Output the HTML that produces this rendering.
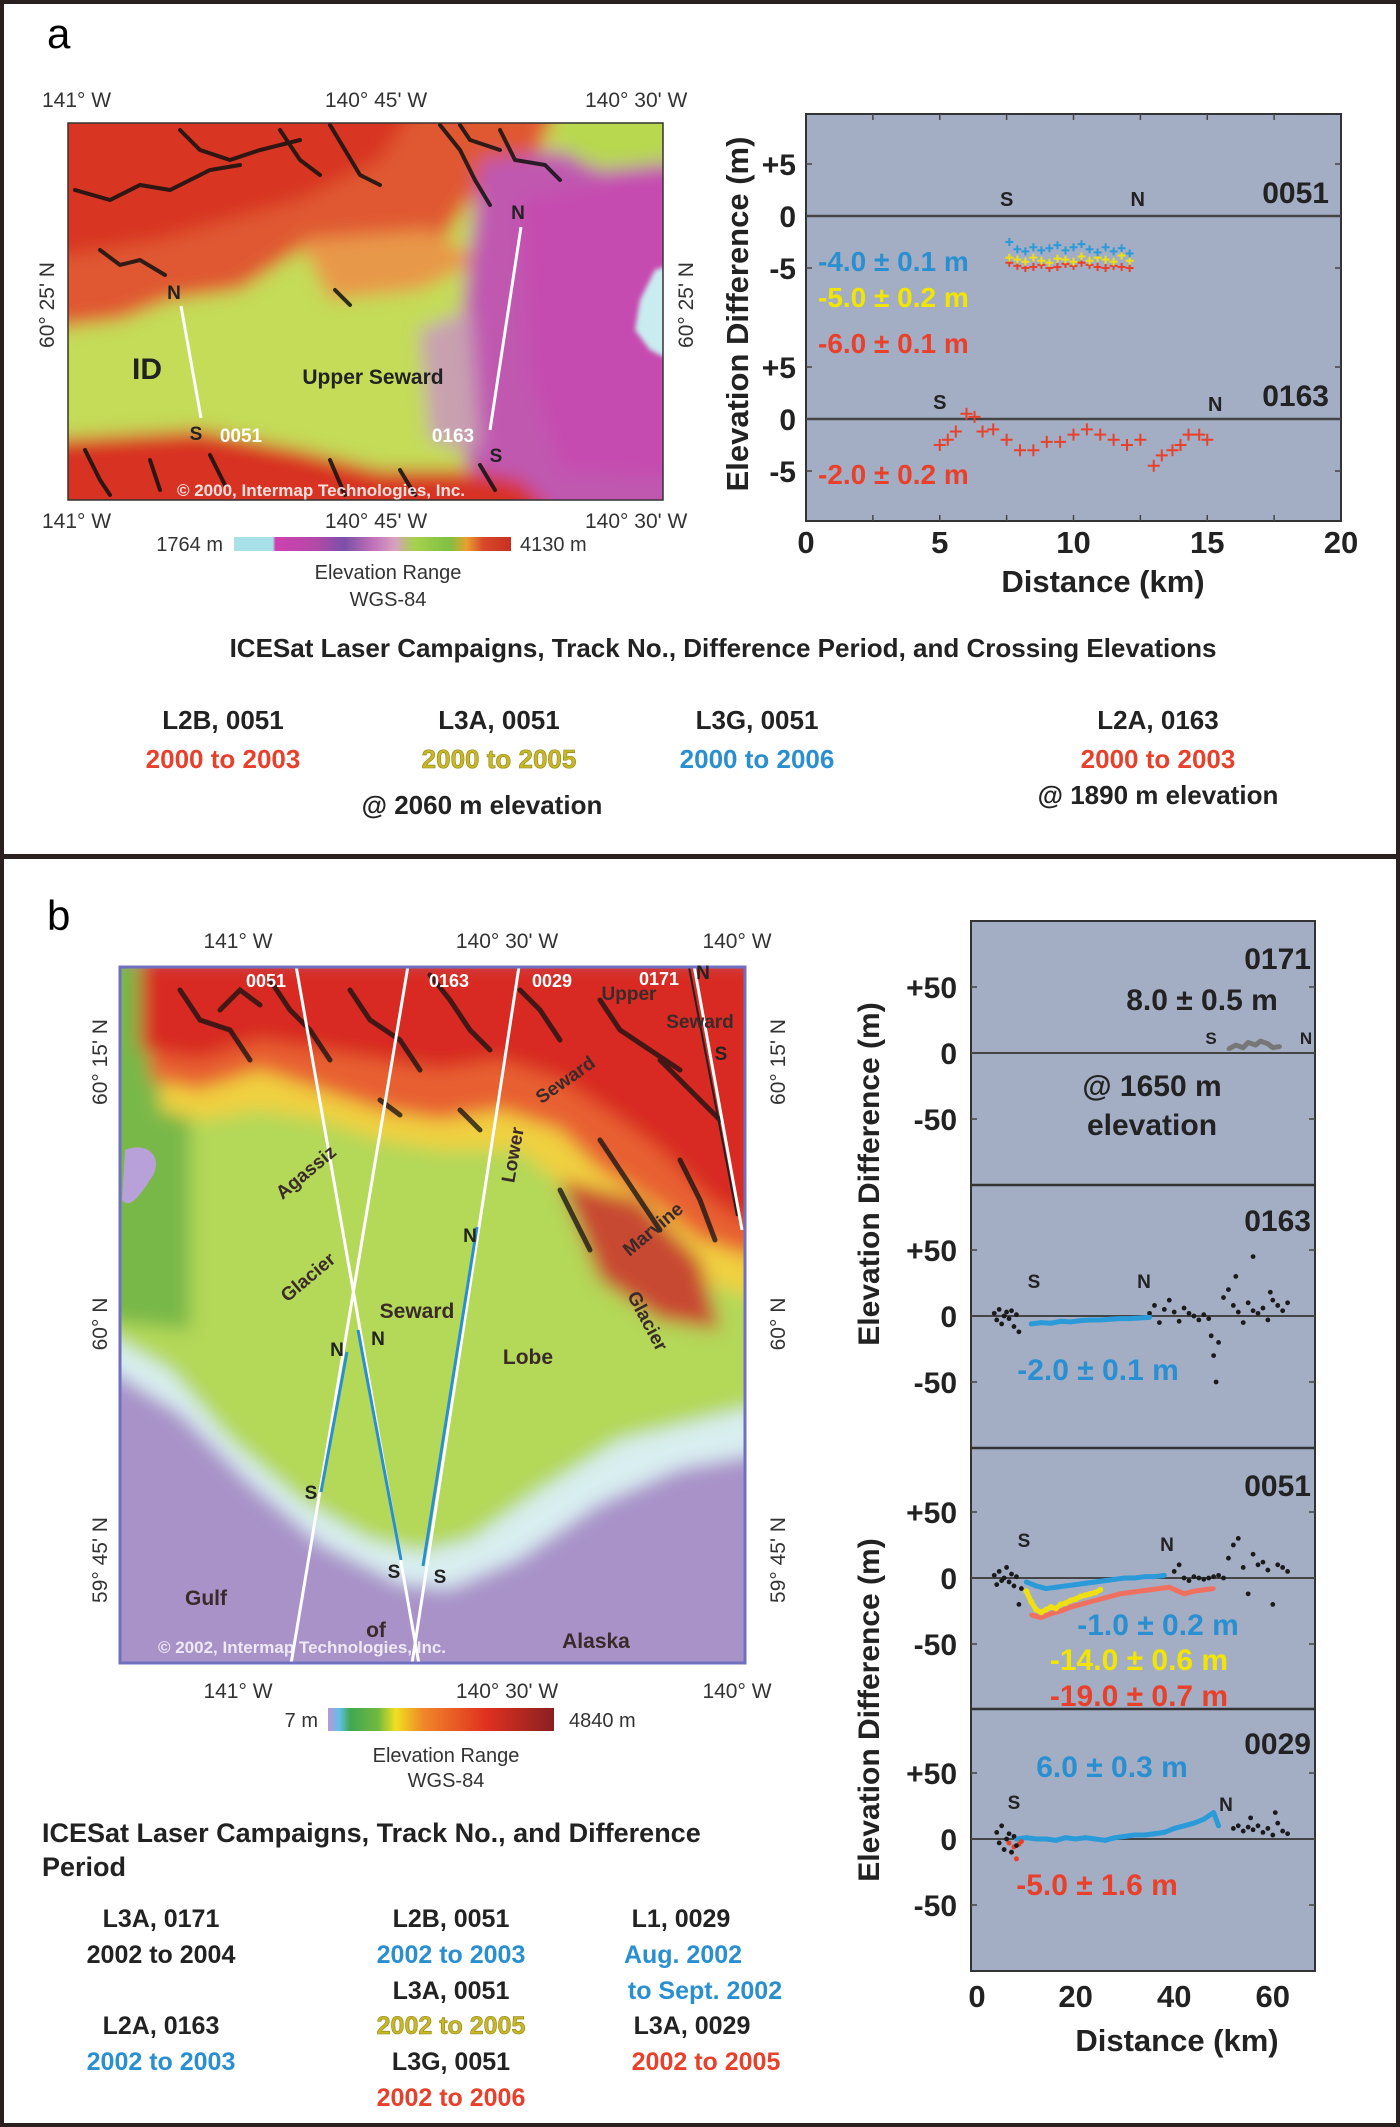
<!DOCTYPE html>
<html><head><meta charset="utf-8"><title>ICESat elevation differences</title>
<style>
html,body{margin:0;padding:0;background:#fff;}
svg{display:block;font-family:"Liberation Sans",Arial,sans-serif;}
.b{font-weight:bold;}
</style></head>
<body>
<svg id="fig" width="1400" height="2127" viewBox="0 0 1400 2127" xmlns="http://www.w3.org/2000/svg">
<defs>
 <filter id="blur8" x="-10%" y="-10%" width="120%" height="120%"><feGaussianBlur stdDeviation="9"/></filter>
 <filter id="blur3"><feGaussianBlur stdDeviation="2.5"/></filter>
 <clipPath id="clipA"><rect x="68" y="123" width="595" height="377"/></clipPath>
 <clipPath id="clipB"><rect x="120" y="967" width="625" height="696"/></clipPath>
 <linearGradient id="cbA" x1="0" x2="1" y1="0" y2="0">
  <stop offset="0" stop-color="#a8e0e8"/><stop offset="0.14" stop-color="#a8e0e8"/>
  <stop offset="0.15" stop-color="#d040b0"/><stop offset="0.3" stop-color="#b04aa8"/>
  <stop offset="0.4" stop-color="#7a50a8"/><stop offset="0.5" stop-color="#c070b8"/>
  <stop offset="0.58" stop-color="#d8a0c0"/><stop offset="0.65" stop-color="#a8d050"/>
  <stop offset="0.78" stop-color="#80c040"/><stop offset="0.84" stop-color="#e8a030"/>
  <stop offset="0.9" stop-color="#d84828"/><stop offset="1" stop-color="#c83020"/>
 </linearGradient>
 <linearGradient id="cbB" x1="0" x2="1" y1="0" y2="0">
  <stop offset="0" stop-color="#b898d8"/><stop offset="0.05" stop-color="#60c0e8"/>
  <stop offset="0.1" stop-color="#40a850"/><stop offset="0.22" stop-color="#70b840"/>
  <stop offset="0.3" stop-color="#f0e020"/><stop offset="0.42" stop-color="#f08828"/>
  <stop offset="0.7" stop-color="#e03020"/><stop offset="1" stop-color="#8a2020"/>
 </linearGradient>
</defs>

<!-- frame -->
<rect x="2" y="2" width="1396" height="2123" fill="none" stroke="#2b2020" stroke-width="4"/>
<rect x="0" y="854" width="1400" height="5" fill="#2b2020"/>

<!-- ============ PANEL A ============ -->
<text x="47" y="48" font-size="42">a</text>

<g>
 <g clip-path="url(#clipA)">
  <g filter="url(#blur8)">
   <rect x="40" y="100" width="660" height="420" fill="#c4dc58"/>
   <path d="M40,100 L560,100 L540,150 L470,200 L430,260 L350,270 L300,250 L240,290 L170,300 L120,320 L40,330 Z" fill="#e05830"/>
   <path d="M40,100 L420,100 L380,160 L300,200 L230,220 L160,240 L100,250 L40,260 Z" fill="#d83424"/>
   <path d="M300,240 L430,230 L480,260 L420,290 L330,300 Z" fill="#e89848"/>
   <path d="M480,160 L560,150 L600,160 L700,150 L700,520 L520,520 L470,470 L440,400 L460,330 L470,250 Z" fill="#c058b0"/>
   <path d="M520,200 L700,160 L700,480 L560,470 L530,380 Z" fill="#c64cb0"/>
   <path d="M420,330 L470,310 L480,450 L430,440 Z" fill="#c8a0b0"/>
   <path d="M560,100 L700,100 L700,160 L600,170 L560,150 Z" fill="#b8d850"/>
   <path d="M40,440 L200,430 L300,450 L380,470 L460,470 L520,480 L560,520 L40,520 Z" fill="#d83020"/>
  </g>
  <path d="M640,300 L655,270 L670,265 L670,360 L650,350 L635,330 Z" fill="#c8ecf0" filter="url(#blur3)"/>
  <g stroke="#111" stroke-width="4" fill="none" stroke-linecap="round" opacity="0.85">
   <path d="M75,190 L110,200 L140,185 L170,190 L210,170 L240,165"/>
   <path d="M180,130 L200,150 L230,160 L260,150 L300,140"/>
   <path d="M280,130 L300,160 L320,175"/>
   <path d="M330,125 L345,150 L360,175 L380,185"/>
   <path d="M440,125 L460,150 L475,180 L490,205"/>
   <path d="M500,130 L515,160 L545,165 L560,180"/>
   <path d="M460,125 L470,140 L500,150"/>
   <path d="M100,250 L120,265 L140,260 L165,275"/>
   <path d="M335,290 L350,305"/>
   <path d="M85,450 L100,480 L110,495"/>
   <path d="M150,460 L160,490"/>
   <path d="M210,455 L225,485"/>
   <path d="M330,460 L345,495"/>
   <path d="M400,470 L415,495"/>
   <path d="M480,465 L495,490"/>
  </g>
 </g>
 <rect x="68" y="123" width="595" height="377" fill="none" stroke="#333" stroke-width="1.5"/>
 <line x1="181" y1="306" x2="201" y2="418" stroke="#fff" stroke-width="3"/>
 <line x1="521" y1="227" x2="490" y2="430" stroke="#fff" stroke-width="3"/>
 <g class="b" font-size="19" fill="#222">
  <text x="174" y="299" text-anchor="middle">N</text>
  <text x="196" y="440" text-anchor="middle">S</text>
  <text x="518" y="219" text-anchor="middle">N</text>
  <text x="496" y="462" text-anchor="middle">S</text>
 </g>
 <text x="241" y="442" class="b" font-size="19" fill="#fff" text-anchor="middle">0051</text>
 <text x="453" y="442" class="b" font-size="19" fill="#fff" text-anchor="middle">0163</text>
 <text x="147" y="379" class="b" font-size="30" fill="#222" text-anchor="middle">ID</text>
 <text x="373" y="384" class="b" font-size="21" fill="#222" text-anchor="middle">Upper Seward</text>
 <text x="321" y="496" class="b" font-size="17" fill="#fff" fill-opacity="0.85" text-anchor="middle">© 2000, Intermap Technologies, Inc.</text>
</g>
<g font-size="21" fill="#333">
 <text x="42" y="107">141° W</text>
 <text x="376" y="107" text-anchor="middle">140° 45' W</text>
 <text x="585" y="107">140° 30' W</text>
 <text x="42" y="528">141° W</text>
 <text x="376" y="528" text-anchor="middle">140° 45' W</text>
 <text x="585" y="528">140° 30' W</text>
 <text transform="translate(54,305) rotate(-90)" text-anchor="middle">60° 25' N</text>
 <text transform="translate(693,305) rotate(-90)" text-anchor="middle">60° 25' N</text>
</g>
<g>
 <rect x="234" y="537" width="277" height="14" fill="url(#cbA)"/>
 <text x="223" y="551" font-size="20" fill="#333" text-anchor="end">1764 m</text>
 <text x="520" y="551" font-size="20" fill="#333">4130 m</text>
 <text x="388" y="579" font-size="20" fill="#333" text-anchor="middle">Elevation Range</text>
 <text x="388" y="606" font-size="20" fill="#333" text-anchor="middle">WGS-84</text>
</g>

<!-- plot a -->
<g id="plotA">
 <rect x="806" y="114" width="535" height="407" fill="#a3aec5" stroke="#333" stroke-width="2"/>
</g>
<text transform="translate(748,314) rotate(-90)" class="b" font-size="31" fill="#222" text-anchor="middle">Elevation Difference (m)</text>
<text x="1103" y="592" class="b" font-size="31" fill="#222" text-anchor="middle">Distance (km)</text>

<g font-size="26" class="b" fill="#222" text-anchor="middle">
 <text x="723" y="657">ICESat Laser Campaigns, Track No., Difference Period, and Crossing Elevations</text>
 <text x="223" y="729">L2B, 0051</text>
 <text x="223" y="768" fill="#e8402a">2000 to 2003</text>
 <text x="499" y="729">L3A, 0051</text>
 <text x="499" y="768" fill="#c8b828" stroke="#8a8010" stroke-width="0.6">2000 to 2005</text>
 <text x="757" y="729">L3G, 0051</text>
 <text x="757" y="768" fill="#2a8fd0">2000 to 2006</text>
 <text x="482" y="814">@ 2060 m elevation</text>
 <text x="1158" y="729">L2A, 0163</text>
 <text x="1158" y="768" fill="#e8402a">2000 to 2003</text>
 <text x="1158" y="804">@ 1890 m elevation</text>
</g>

<!-- ============ PANEL B ============ -->
<text x="47" y="930" font-size="42">b</text>

<g>
 <g clip-path="url(#clipB)">
  <rect x="110" y="960" width="650" height="720" fill="#a892c8"/>
  <g filter="url(#blur8)">
   <path d="M100,960 L760,960 L760,1455 L680,1470 L600,1505 L520,1560 L450,1590 L400,1585 L320,1545 L250,1485 L180,1415 L100,1365 Z" fill="#d8eef0"/>
   <path d="M100,960 L760,960 L760,1405 L700,1420 L620,1440 L540,1490 L470,1540 L420,1552 L370,1540 L300,1500 L230,1440 L170,1370 L100,1330 Z" fill="#b4d858"/>
   <path d="M100,960 L190,960 L190,1330 L100,1320 Z" fill="#78b848"/>
   <path d="M160,960 L760,960 L760,1300 L700,1280 L640,1240 L580,1200 L520,1150 L440,1150 L380,1140 L320,1120 L260,1110 L200,1120 L160,1110 Z" fill="#f0d040"/>
   <path d="M150,960 L760,960 L760,1260 L700,1240 L650,1200 L600,1170 L560,1130 L500,1110 L440,1120 L380,1110 L320,1090 L260,1070 L200,1090 L150,1080 Z" fill="#e86030"/>
   <path d="M140,960 L760,960 L760,1230 L710,1200 L660,1150 L620,1120 L560,1080 L500,1060 L440,1070 L380,1060 L320,1050 L260,1040 L200,1060 L140,1050 Z" fill="#d82a20"/>
   <path d="M560,1180 L640,1200 L700,1260 L720,1330 L660,1320 L600,1280 Z" fill="#c84830"/>
  </g>
  <path d="M125,1150 C150,1140 165,1160 150,1180 C140,1195 130,1210 122,1200 Z" fill="#b8a0d8"/>
  <g stroke="#111" stroke-width="5" fill="none" stroke-linecap="round" opacity="0.75">
   <path d="M180,990 L200,1020 L230,1030 L250,1060"/>
   <path d="M270,980 L290,1010 L310,1030 L330,1060"/>
   <path d="M350,990 L370,1020 L400,1040 L420,1070"/>
   <path d="M430,975 L450,1000 L470,1030 L490,1050"/>
   <path d="M520,990 L540,1010 L560,1040"/>
   <path d="M600,1000 L620,1030 L650,1050 L680,1070"/>
   <path d="M660,1060 L690,1090 L720,1120"/>
   <path d="M600,1140 L620,1170 L640,1200 L660,1230"/>
   <path d="M560,1190 L575,1220 L590,1250"/>
   <path d="M680,1160 L700,1200 L715,1240"/>
   <path d="M220,1010 L240,990 L260,1005"/>
   <path d="M460,1110 L480,1130"/>
   <path d="M380,1100 L400,1115"/>
  </g>
  <!-- tracks -->
  <line x1="295" y1="960" x2="420" y2="1670" stroke="#fff" stroke-width="3"/>
  <line x1="409" y1="960" x2="290" y2="1670" stroke="#fff" stroke-width="3"/>
  <line x1="520" y1="960" x2="411" y2="1670" stroke="#fff" stroke-width="3"/>
  <line x1="693" y1="960" x2="742" y2="1230" stroke="#fff" stroke-width="3"/>
  <line x1="688" y1="962" x2="737" y2="1216" stroke="#222" stroke-width="2"/>
  <line x1="358" y1="1330" x2="401" y2="1560" stroke="#2a8fd0" stroke-width="3"/>
  <line x1="347" y1="1352" x2="321" y2="1492" stroke="#2a8fd0" stroke-width="3"/>
  <line x1="477" y1="1227" x2="423" y2="1566" stroke="#2a8fd0" stroke-width="3"/>
 </g>
 <rect x="120" y="967" width="625" height="696" fill="none" stroke="#7070c0" stroke-width="3"/>
 <g class="b" font-size="18" fill="#fff">
  <text x="266" y="987" text-anchor="middle">0051</text>
  <text x="449" y="987" text-anchor="middle">0163</text>
  <text x="552" y="987" text-anchor="middle">0029</text>
  <text x="659" y="985" text-anchor="middle">0171</text>
 </g>
 <g class="b" font-size="19" fill="#222" text-anchor="middle">
  <text x="378" y="1345">N</text><text x="394" y="1578">S</text>
  <text x="337" y="1356">N</text><text x="311" y="1499">S</text>
  <text x="470" y="1242">N</text><text x="440" y="1583">S</text>
  <text x="703" y="979">N</text><text x="721" y="1060">S</text>
 </g>
 <g class="b" font-size="19" fill="#3a2a2a" text-anchor="middle">
  <text x="629" y="1000">Upper</text>
  <text x="700" y="1028">Seward</text>
  <text transform="translate(569,1085) rotate(-35)">Seward</text>
  <text transform="translate(519,1156) rotate(-80)">Lower</text>
  <text transform="translate(310,1177) rotate(-40)">Agassiz</text>
  <text transform="translate(312,1282) rotate(-40)">Glacier</text>
  <text x="417" y="1318" font-size="21">Seward</text>
  <text x="528" y="1364" font-size="21">Lobe</text>
  <text transform="translate(657,1234) rotate(-40)">Marvine</text>
  <text transform="translate(642,1324) rotate(62)">Glacier</text>
  <text x="206" y="1605" font-size="21">Gulf</text>
  <text x="376" y="1637" font-size="21">of</text>
  <text x="596" y="1648" font-size="21">Alaska</text>
 </g>
 <text x="302" y="1653" class="b" font-size="17" fill="#fff" fill-opacity="0.8" text-anchor="middle">© 2002, Intermap Technologies, Inc.</text>
</g>
<g font-size="21" fill="#333" text-anchor="middle">
 <text x="238" y="948">141° W</text>
 <text x="507" y="948">140° 30' W</text>
 <text x="737" y="948">140° W</text>
 <text x="238" y="1698">141° W</text>
 <text x="507" y="1698">140° 30' W</text>
 <text x="737" y="1698">140° W</text>
 <text transform="translate(107,1062) rotate(-90)">60° 15' N</text>
 <text transform="translate(107,1324) rotate(-90)">60° N</text>
 <text transform="translate(107,1560) rotate(-90)">59° 45' N</text>
 <text transform="translate(785,1062) rotate(-90)">60° 15' N</text>
 <text transform="translate(785,1324) rotate(-90)">60° N</text>
 <text transform="translate(785,1560) rotate(-90)">59° 45' N</text>
</g>
<g>
 <rect x="328" y="1708" width="226" height="23" fill="url(#cbB)"/>
 <text x="318" y="1727" font-size="20" fill="#333" text-anchor="end">7 m</text>
 <text x="569" y="1727" font-size="20" fill="#333">4840 m</text>
 <text x="446" y="1762" font-size="20" fill="#333" text-anchor="middle">Elevation Range</text>
 <text x="446" y="1787" font-size="20" fill="#333" text-anchor="middle">WGS-84</text>
</g>

<g class="b" font-size="27" fill="#222">
 <text x="42" y="1842">ICESat Laser Campaigns, Track No., and Difference</text>
 <text x="42" y="1876">Period</text>
 <g font-size="25" text-anchor="middle">
  <text x="161" y="1927">L3A, 0171</text>
  <text x="161" y="1963">2002 to 2004</text>
  <text x="161" y="2034">L2A, 0163</text>
  <text x="161" y="2070" fill="#2a8fd0">2002 to 2003</text>
  <text x="451" y="1927">L2B, 0051</text>
  <text x="451" y="1963" fill="#2a8fd0">2002 to 2003</text>
  <text x="451" y="1999">L3A, 0051</text>
  <text x="451" y="2034" fill="#c8b828" stroke="#8a8010" stroke-width="0.6">2002 to 2005</text>
  <text x="451" y="2070">L3G, 0051</text>
  <text x="451" y="2106" fill="#e8402a">2002 to 2006</text>
  <text x="681" y="1927">L1, 0029</text>
  <text x="683" y="1963" fill="#2a8fd0">Aug. 2002</text>
  <text x="705" y="1999" fill="#2a8fd0">to Sept. 2002</text>
  <text x="692" y="2034">L3A, 0029</text>
  <text x="706" y="2070" fill="#e8402a">2002 to 2005</text>
 </g>
</g>

<g id="plotB">
 <rect x="971" y="921" width="344" height="1050" fill="#a3aec5" stroke="#333" stroke-width="2"/>
</g>
<text transform="translate(879,1174) rotate(-90)" class="b" font-size="30" fill="#222" text-anchor="middle">Elevation Difference (m)</text>
<text transform="translate(879,1710) rotate(-90)" class="b" font-size="30" fill="#222" text-anchor="middle">Elevation Difference (m)</text>
<text x="1177" y="2051" class="b" font-size="31" fill="#222" text-anchor="middle">Distance (km)</text>

<script>
// ---------- Panel a data ----------
const aXTicks = [0, 5, 10, 15, 20];
const aYTicks = [5, 0, -5];
const aYTickLabels = ["+5", "0", "-5"];
const aTracks = ["0051", "0163"];
const aDist51 = [7.6,7.9,8.2,8.5,8.8,9.1,9.4,9.7,10,10.3,10.6,10.9,11.2,11.5,11.8,12.1];
const aBlue51 = [-2.5,-3.2,-3.4,-3.0,-3.3,-3.1,-2.8,-3.3,-3.0,-2.7,-3.2,-3.5,-3.0,-3.4,-3.1,-3.6];
const aYel51  = [-4.0,-4.2,-4.4,-4.0,-4.3,-4.5,-4.1,-4.2,-4.4,-3.9,-4.3,-4.0,-4.2,-4.4,-3.8,-4.3];
const aRed51  = [-4.5,-4.8,-5.0,-4.9,-4.7,-5.0,-4.9,-4.6,-4.8,-4.5,-4.7,-4.9,-5.0,-4.8,-4.9,-5.0];
const aDist163 = [5.0,5.3,5.6,6.0,6.3,6.6,7.0,7.5,8.0,8.5,9.0,9.5,10.0,10.5,11.0,11.5,12.0,12.5,13.0,13.3,13.7,14.0,14.3,14.7,15.0];
const aRed163  = [-2.5,-2.0,-1.2,0.5,0.2,-1.2,-1.0,-2.0,-3.0,-3.0,-2.2,-2.2,-1.5,-1.0,-1.5,-2.0,-2.5,-2.0,-4.5,-3.5,-3.0,-2.5,-1.5,-1.5,-2.0];

// ---------- Panel b data ----------
const bXTicks = [0, 20, 40, 60];
const bYTicks = [50, 0, -50];
const bYTickLabels = ["+50", "0", "-50"];
const bTracks = ["0171", "0163", "0051", "0029"];
const b171Dist = [51,52.5,54,55,56.5,57.5,59,60,61.5];
const b171Val  = [3,6,4,8,6,9,7,4,5];
const b163BlackDist = [3.5,4,4.5,5,5.5,6,6.5,7,7.5,8,8.5,35,36,37,38,39,40,41,42,43,44,45,46,47,47.5,48,48.5,50,51,52,53,54,55,56,57,58,59,60,61,62,63,56,59.5,52.5,49];
const b163BlackVal  = [2,-3,5,-6,0,3,-2,4,-8,1,-12,2,8,-5,5,12,3,-4,6,2,0,-3,1,-2,-15,-30,-50,14,20,8,3,-5,10,4,2,6,-3,12,8,4,10,45,18,30,-20];
const b163BlueDist = [11,13,15,17,19,21,23,25,27,29,31,33,35];
const b163BlueVal  = [-6,-5,-5.5,-4,-4.5,-3.5,-3,-3,-2.5,-2,-2,-1.5,-1];
const b51BlackDist = [3.5,4,4.5,5,5.5,6,6.5,7,7.5,8,8.5,9,40,41,42,43,44,45,46,47,48,49,50,51,52,53,54,55,56,57,58,59,60,61,62,63];
const b51BlackVal  = [2,-5,5,-2,0,8,-3,3,-6,1,-20,-8,5,10,0,-2,1,0,-1,0,1,2,0,15,25,30,8,-12,18,10,12,6,-20,10,8,5];
const b51BlueDist = [10,12,14,16,18,20,22,24,26,28,30,32,34,36,38];
const b51BlueVal  = [-3,-6,-8,-7,-6,-5,-4,-3,-2,-1,0,0,1,1,2];
const b51YelDist = [10,11,12,13,14,15,16,17,18,19,20,21,22,23,24,25];
const b51YelVal  = [-10,-18,-24,-26,-24,-22,-23,-20,-19,-17,-16,-14,-13,-12,-11,-9];
const b51RedDist = [11,13,15,17,19,21,23,25,27,29,31,33,35,37,39,42,44,46,48];
const b51RedVal  = [-28,-30,-27,-25,-22,-20,-18,-16,-14,-12,-11,-10,-9,-8,-7,-12,-10,-9,-8];
const b29BlackDist = [4,4.5,5,5.5,6,6.5,7,7.5,8,52,53,54,55,56,57,58,59,60,61,62,63,55.5,60.5];
const b29BlackVal  = [5,-3,10,-8,0,4,-10,2,-5,8,10,6,9,7,10,5,8,3,12,6,4,16,20];
const b29BlueDist = [8,10,12,14,16,18,20,22,24,26,28,30,32,34,36,38,40,42,44,46,48,49];
const b29BlueVal  = [0,1,0,0,-1,1,0,1,0,-1,1,2,3,3,4,5,8,10,12,15,20,10];
const b29RedDist = [6.5,7,7.5,8,8.5,9];
const b29RedVal  = [-3,-10,-6,-15,-4,-2];

const NS = "http://www.w3.org/2000/svg";
function mk(tag, attrs, parent) {
  const e = document.createElementNS(NS, tag);
  for (const k in attrs) e.setAttribute(k, attrs[k]);
  parent.appendChild(e);
  return e;
}
// axis functions
const aX = d => 806 + d * 26.75;
const aZero = [216, 419];
const aY = (p, v) => aZero[p] - v * 10.4;
const bX = d => 977 + d * 4.93;
const bZero = [1053, 1316, 1578, 1839];
const bY = (p, v) => bZero[p] - v * 1.32;

const gA = document.getElementById("plotA");
const gB = document.getElementById("plotB");

// ----- plot a axes -----
aTracks.forEach((t, p) => {
  const z = mk("line", {x1: 806, x2: 1341, y1: aY(p, 0), y2: aY(p, 0), stroke: "#444", "stroke-width": 2.5}, gA);
  
  
  aYTicks.forEach((v, i) => {
    const tx = mk("text", {x: 796, y: aY(p, v) + 11, "font-size": 30, "font-weight": "bold", fill: "#222", "text-anchor": "end"}, gA);
    tx.textContent = aYTickLabels[i];
    
    
    mk("line", {x1: 806, x2: 812, y1: aY(p, v), y2: aY(p, v), stroke: "#444", "stroke-width": 1.5}, gA);
    mk("line", {x1: 1335, x2: 1341, y1: aY(p, v), y2: aY(p, v), stroke: "#444", "stroke-width": 1.5}, gA);
  });
  const lab = mk("text", {x: 1329, y: aY(p, 0) - 13, "font-size": 30, "font-weight": "bold", fill: "#222", "text-anchor": "end"}, gA);
  lab.textContent = t;
  
  
});
aXTicks.forEach(d => {
  const tx = mk("text", {x: aX(d), y: 553, "font-size": 31, "font-weight": "bold", fill: "#222", "text-anchor": "middle"}, gA);
  tx.textContent = d;
  
  
});
for (let d = 2.5; d < 20; d += 2.5) {
  mk("line", {x1: aX(d), x2: aX(d), y1: 114, y2: 120, stroke: "#444", "stroke-width": 1.5}, gA);
  mk("line", {x1: aX(d), x2: aX(d), y1: 515, y2: 521, stroke: "#444", "stroke-width": 1.5}, gA);
}
function crossA(p, dist, vals, color, name, sz) {
  const g = mk("g", {stroke: color, "stroke-width": 2}, gA);
  
  
  dist.forEach((d, i) => {
    const x = aX(d), y = aY(p, vals[i]);
    mk("path", {d: `M${x - sz},${y}H${x + sz}M${x},${y - sz}V${y + sz}`}, g);
  });
}
crossA(0, aDist51, aRed51, "#e8402a", "series-0051-l2b", 4);
crossA(0, aDist51, aYel51, "#f0e010", "series-0051-l3a", 4);
crossA(0, aDist51, aBlue51, "#2a9ad8", "series-0051-l3g", 4);
crossA(1, aDist163, aRed163, "#e8402a", "series-0163-l2a", 6);
function txt(parent, x, y, s, fs, color, anchor, name) {
  const t = mk("text", {x: x, y: y, "font-size": fs, "font-weight": "bold", fill: color, "text-anchor": anchor || "start"}, parent);
  t.textContent = s;
  
  
  return t;
}
txt(gA, aX(7.5), 206, "S", 20, "#222", "middle", "south-marker");
txt(gA, aX(12.4), 206, "N", 20, "#222", "middle", "north-marker");
txt(gA, aX(5), 409, "S", 20, "#222", "middle", "south-marker");
txt(gA, aX(15.3), 411, "N", 20, "#222", "middle", "north-marker");
txt(gA, 818, 271, "-4.0 ± 0.1 m", 28, "#2a8fd0", "start", "value-0051-l3g");
txt(gA, 818, 307, "-5.0 ± 0.2 m", 28, "#f2e600", "start", "value-0051-l3a");
txt(gA, 818, 353, "-6.0 ± 0.1 m", 28, "#e8402a", "start", "value-0051-l2b");
txt(gA, 818, 484, "-2.0 ± 0.2 m", 28, "#e8402a", "start", "value-0163-l2a");

// ----- plot b axes -----
[1185, 1448, 1709].forEach(y => mk("line", {x1: 971, x2: 1315, y1: y, y2: y, stroke: "#333", "stroke-width": 2.5}, gB));
bTracks.forEach((t, p) => {
  const z = mk("line", {x1: 971, x2: 1315, y1: bY(p, 0), y2: bY(p, 0), stroke: "#444", "stroke-width": 2}, gB);
  
  
  bYTicks.forEach((v, i) => {
    const tx = mk("text", {x: 957, y: bY(p, v) + 11, "font-size": 30, "font-weight": "bold", fill: "#222", "text-anchor": "end"}, gB);
    tx.textContent = bYTickLabels[i];
    
    
    mk("line", {x1: 971, x2: 977, y1: bY(p, v), y2: bY(p, v), stroke: "#444", "stroke-width": 1.5}, gB);
    mk("line", {x1: 1309, x2: 1315, y1: bY(p, v), y2: bY(p, v), stroke: "#444", "stroke-width": 1.5}, gB);
  });
});
bXTicks.forEach(d => {
  const tx = mk("text", {x: bX(d), y: 2007, "font-size": 31, "font-weight": "bold", fill: "#222", "text-anchor": "middle"}, gB);
  tx.textContent = d;
  
  
});
function dotsB(p, dist, vals, color, r, name, line) {
  const g = mk("g", {fill: color}, gB);
  
  
  if (line) {
    mk("polyline", {points: dist.map((d, i) => bX(d) + "," + bY(p, vals[i])).join(" "), fill: "none", stroke: color, "stroke-width": 5, "stroke-linejoin": "round"}, g);
  }
  dist.forEach((d, i) => mk("circle", {cx: bX(d), cy: bY(p, vals[i]), r: r}, g));
}
dotsB(0, b171Dist, b171Val, "#777", 1.8, "series-0171", true);
dotsB(1, b163BlackDist, b163BlackVal, "#1a1a1a", 2.4, "series-0163-outside", false);
dotsB(1, b163BlueDist, b163BlueVal, "#2a9ad8", 2.5, "series-0163-l2a", true);
dotsB(2, b51RedDist, b51RedVal, "#f07060", 2, "series-0051-l3g", true);
dotsB(2, b51YelDist, b51YelVal, "#f0e010", 3, "series-0051-l3a", true);
dotsB(2, b51BlueDist, b51BlueVal, "#2a9ad8", 2.5, "series-0051-l2b", true);
dotsB(2, b51BlackDist, b51BlackVal, "#1a1a1a", 2.4, "series-0051-outside", false);
dotsB(3, b29BlueDist, b29BlueVal, "#2a9ad8", 2.5, "series-0029-l1", true);
dotsB(3, b29RedDist, b29RedVal, "#e8402a", 2.5, "series-0029-l3a", false);
dotsB(3, b29BlackDist, b29BlackVal, "#1a1a1a", 2.4, "series-0029-outside", false);

txt(gB, 1311, 969, "0171", 30, "#222", "end", "track-label-0171");
txt(gB, 1311, 1231, "0163", 30, "#222", "end", "track-label-0163");
txt(gB, 1311, 1496, "0051", 30, "#222", "end", "track-label-0051");
txt(gB, 1311, 1754, "0029", 30, "#222", "end", "track-label-0029");
txt(gB, 1202, 1010, "8.0 ± 0.5 m", 30, "#222", "middle", "value-0171");
txt(gB, 1152, 1096, "@ 1650 m", 30, "#222", "middle", "elevation-note-0171");
txt(gB, 1152, 1135, "elevation", 30, "#222", "middle", "elevation-note-0171");
txt(gB, 1211, 1044, "S", 17, "#222", "middle", "south-marker");
txt(gB, 1306, 1044, "N", 17, "#222", "middle", "north-marker");
txt(gB, 1034, 1288, "S", 19, "#222", "middle", "south-marker");
txt(gB, 1144, 1288, "N", 19, "#222", "middle", "north-marker");
txt(gB, 1098, 1380, "-2.0 ± 0.1 m", 30, "#2a8fd0", "middle", "value-0163-l2a");
txt(gB, 1024, 1547, "S", 19, "#222", "middle", "south-marker");
txt(gB, 1167, 1551, "N", 19, "#222", "middle", "north-marker");
txt(gB, 1158, 1635, "-1.0 ± 0.2 m", 30, "#2a8fd0", "middle", "value-0051-l2b");
txt(gB, 1139, 1670, "-14.0 ± 0.6 m", 30, "#f2e600", "middle", "value-0051-l3a");
txt(gB, 1139, 1706, "-19.0 ± 0.7 m", 30, "#e8402a", "middle", "value-0051-l3g");
txt(gB, 1112, 1777, "6.0 ± 0.3 m", 30, "#2a8fd0", "middle", "value-0029-l1");
txt(gB, 1014, 1809, "S", 19, "#222", "middle", "south-marker");
txt(gB, 1226, 1811, "N", 19, "#222", "middle", "north-marker");
txt(gB, 1097, 1895, "-5.0 ± 1.6 m", 30, "#e8402a", "middle", "value-0029-l3a");
</script>
</svg>
</body></html>
